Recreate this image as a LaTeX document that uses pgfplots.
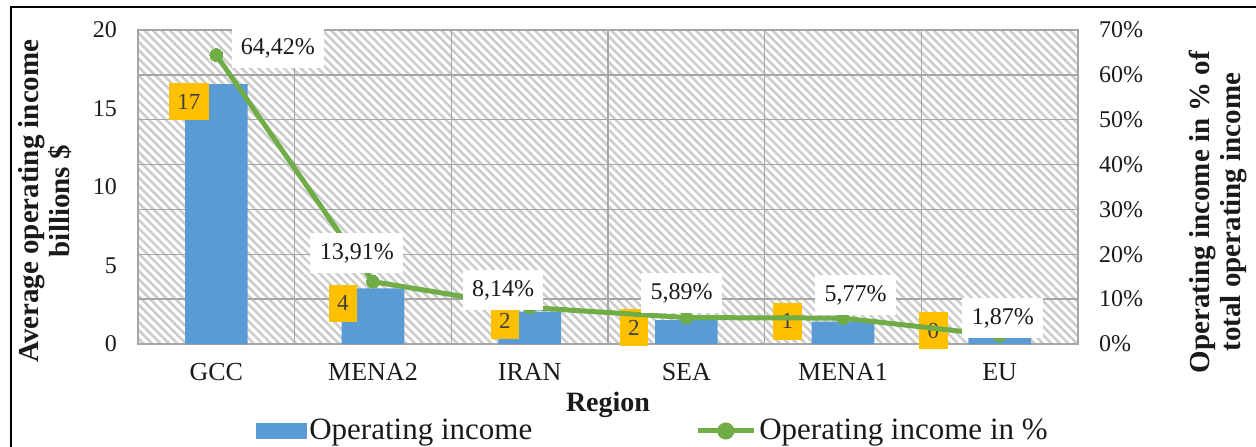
\documentclass[border=0pt]{standalone}
\usepackage{fontspec}
\setmainfont{Liberation Serif}
\usepackage{pgfplots}
\pgfplotsset{compat=1.18}
\usetikzlibrary{patterns.meta}
\definecolor{barblue}{HTML}{5B9BD5}
\definecolor{lgreen}{HTML}{70AD47}
\definecolor{lorange}{HTML}{FFC000}
\definecolor{gridgray}{HTML}{A6A6A6}
\definecolor{txt}{HTML}{1A1A1A}
\definecolor{lbltxt}{HTML}{404040}

\pgfplotstableread{
x y
0 16.56
1 3.55
2 2.06
3 1.52
4 1.42
5 0.43
}\barsdata

\pgfplotstableread{
x y
0 64.42
1 13.91
2 8.14
3 5.89
4 5.77
5 1.87
}\linedata

% positions (axis units) of the orange value boxes and their text
\pgfplotstableread{
x y l
-0.175 15.45 17
0.808 2.61 4
1.842 1.50 2
2.665 1.02 2
3.645 1.46 1
4.577 0.83 0
}\barlabels

% positions (axis units, right axis) of the white percentage boxes
\pgfplotstableread{
x y l
0.393 66.0 64,42
0.897 20.3 13,91
1.83 12.0 8,14
2.97 11.4 5,89
4.08 10.9 5,77
5.02 5.8 1,87
}\linelabels

\begin{document}
\begin{tikzpicture}
\useasboundingbox (0,0) rectangle (628pt,223pt);
\draw[line width=1pt] (5.5pt,-5pt) -- (5.5pt,219.5pt) -- (640pt,219.5pt);

\begin{axis}[
  at={(69pt,51pt)}, anchor=south west,
  scale only axis, width=470pt, height=157pt,
  xmin=-0.5, xmax=5.5, ymin=0, ymax=20,
  xtick={0,1,2,3,4,5},
  xticklabels={GCC,MENA2,IRAN,SEA,MENA1,EU},
  minor xtick={0.5,1.5,2.5,3.5,4.5},
  xminorgrids,
  ytick={0,5,10,15,20},
  extra y ticks={2.857143,5.714286,8.571429,11.428571,14.285714,17.142857},
  extra y tick labels={},
  extra y tick style={grid=major, major tick length=0pt},
  major tick length=0pt, minor tick length=0pt,
  axis line style={gridgray, line width=0.75pt},
  minor grid style={gridgray, line width=0.75pt},
  major grid style={gridgray, line width=0.75pt},
  axis background/.style={pattern={Lines[angle=-45,distance=3pt,line width=1.3pt]}, pattern color=black!20},
  /pgf/number format/assume math mode=true,
  yticklabel style={font=\fontsize{12}{14}\selectfont, text=txt, anchor=east, xshift=-7pt},
  xticklabel style={font=\fontsize{13}{15}\selectfont, text=txt, anchor=north, yshift=-6pt},
  xlabel={Region},
  xlabel style={font=\bfseries\fontsize{14}{16}\selectfont, text=txt, at={(axis description cs:0.5,-0.194)}, anchor=center},
  ylabel={Average operating income\\billions \$},
  ylabel style={font=\bfseries\fontsize{14.5}{15.5}\selectfont, text=txt, align=center, at={(axis description cs:-0.099,0.455)}, anchor=center},
  legend columns=2,
  legend style={at={(axis description cs:0.548,-0.277)}, anchor=center, draw=none, fill=none,
    font=\fontsize{15.5}{17}\selectfont, text=txt,
    /tikz/every even column/.append style={column sep=80pt},
    nodes={inner sep=1.5pt}},
]
\addplot[ybar, bar width=0.4, fill=barblue, draw=none, forget plot] table[x=x,y=y] {\barsdata};
\addplot[draw=none, mark=none, forget plot,
  point meta=explicit symbolic, nodes near coords,
  nodes near coords style={anchor=center, fill=lorange, text=lbltxt,
    font=\fontsize{11.5}{13}\selectfont, inner xsep=4.3pt, inner ysep=0pt, minimum height=18.5pt}]
  table[x=x,y=y,meta=l] {\barlabels};
\addlegendimage{legend image code/.code={\fill[barblue] (0pt,-3.75pt) rectangle (25pt,3.75pt);}}
\addlegendentry{Operating income}
\addlegendimage{lgreen, line width=2.5pt, mark=*, mark size=3pt,
  legend image code/.code={\draw[mark repeat=2,mark phase=2] plot coordinates {(0pt,0pt) (14pt,0pt) (28pt,0pt)};}}
\addlegendentry{Operating income in \%}
\end{axis}

\begin{axis}[
  at={(69pt,51pt)}, anchor=south west,
  scale only axis, width=470pt, height=157pt,
  xmin=-0.5, xmax=5.5, ymin=0, ymax=70,
  axis x line=none,
  axis y line*=right,
  axis line style={draw=none},
  ytick={0,10,20,30,40,50,60,70},
  major tick length=0pt,
  yticklabel={\pgfmathprintnumber{\tick}\%},
  /pgf/number format/assume math mode=true,
  yticklabel style={font=\fontsize{12}{14}\selectfont, text=txt, anchor=west, xshift=7pt},
  ylabel={Operating income in \% of\\total operating income},
  ylabel style={font=\bfseries\fontsize{14.5}{15.5}\selectfont, text=txt, align=center, at={(axis description cs:1.149,0.42)}, anchor=center},
  clip=false,
]
\addplot[lgreen, line width=2.5pt, mark=*, mark size=3.2pt, mark options={fill=lgreen, draw=lgreen, line width=0pt}] table[x=x,y=y] {\linedata};
\addplot[draw=none, mark=none,
  point meta=explicit symbolic, nodes near coords={\pgfplotspointmeta\%},
  nodes near coords style={anchor=center, fill=white, text=txt,
    font=\fontsize{12}{14}\selectfont, inner xsep=4.7pt, inner ysep=0pt, minimum height=20pt}]
  table[x=x,y=y,meta=l] {\linelabels};
\end{axis}
\end{tikzpicture}
\end{document}
